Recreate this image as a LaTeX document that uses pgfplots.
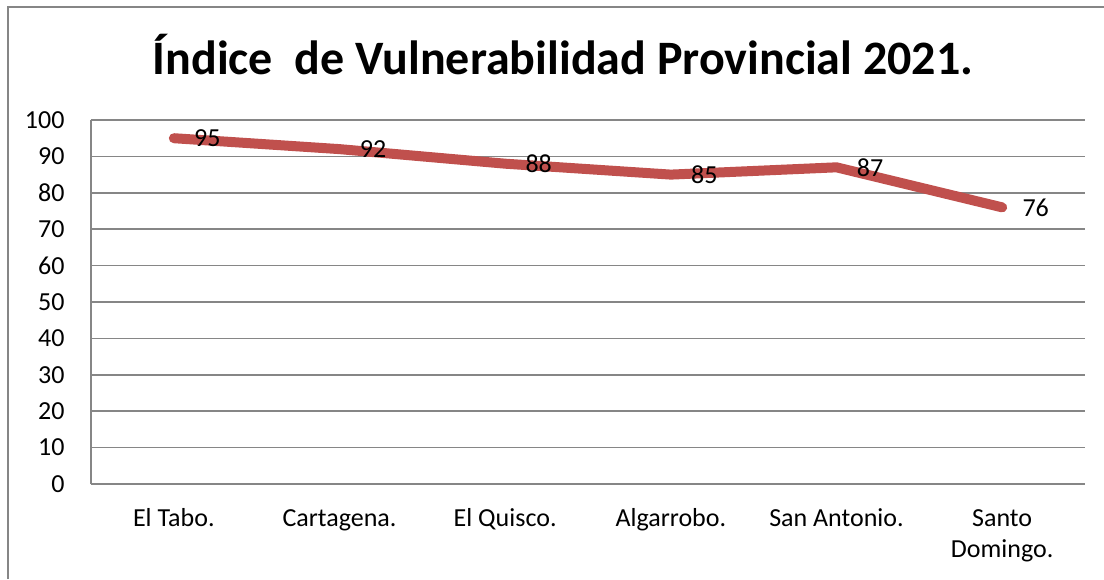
\documentclass[border=0pt]{standalone}
\usepackage{pgfplots}
\pgfplotsset{compat=1.18}
\usepackage{fontspec}
\setmainfont{Carlito}
\definecolor{linered}{HTML}{C0504D}
\definecolor{gridgray}{HTML}{868686}
\begin{document}
\begin{tikzpicture}
\useasboundingbox (0pt,0pt) rectangle (1104pt,-579pt);
\draw[gridgray, line width=1.5pt] (8pt,-579pt) -- (8pt,-7pt) -- (1104pt,-7pt);
\node[font=\fontsize{48}{58}\selectfont\bfseries] at (563pt,-55pt) {Índice\ \ de Vulnerabilidad Provincial 2021.};
\begin{axis}[
  at={(91pt,-484pt)}, anchor=south west,
  scale only axis, width=994pt, height=364pt,
  xmin=-0.5, xmax=5.5, ymin=0, ymax=100,
  xtick=data,
  xticklabels={\strut El Tabo.,\strut Cartagena.,\strut El Quisco.,\strut Algarrobo.,\strut San Antonio.,{\strut Santo\\\strut Domingo.}},
  ytick={0,10,...,100},
  ymajorgrids, grid style={gridgray, line width=1.5pt},
  axis x line*=bottom, axis y line*=left,
  axis line style={gridgray, line width=1.5pt, -},
  major tick length=0pt,
  /pgf/number format/assume math mode=true,
  tick label style={font=\fontsize{26}{31}\selectfont},
  xticklabel style={align=center, anchor=north, inner sep=0pt, yshift=-21pt},
  yticklabel style={xshift=-23pt},
  nodes near coords,
  nodes near coords style={anchor=west, xshift=12pt, font=\fontsize{26}{31}\selectfont, text=black},
  clip=false,
]
\addplot[linered, line width=10pt, line cap=round, line join=round, no marks] coordinates {
(0,95) (1,92) (2,88) (3,85) (4,87) (5,76)
};
\end{axis}
\end{tikzpicture}
\end{document}
